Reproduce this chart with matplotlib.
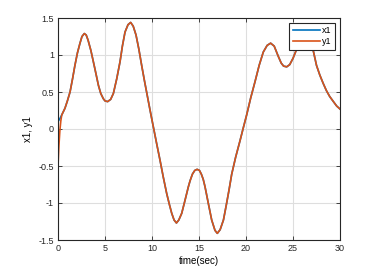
import matplotlib
matplotlib.use("Agg")
import matplotlib.pyplot as plt

# values
t_start = [0.0, 0.1, 0.2, 0.3]
x1_start = [0.10, 0.12, 0.14, 0.165]
y1_start = [-0.50, -0.22, -0.02, 0.11]

t_common = [0.4, 0.74, 1.0, 1.28, 1.55, 1.8, 2.07, 2.34, 2.55, 2.8, 3.0, 3.2,
            3.5, 3.76, 4.05, 4.3, 4.55, 4.82, 5.0, 5.28, 5.6, 5.89, 6.25, 6.6,
            6.85, 7.13, 7.45, 7.73, 8.0, 8.3, 8.6, 8.9, 9.2, 9.5, 9.8, 10.14,
            10.5, 10.85, 11.2, 11.56, 11.85, 12.1, 12.35, 12.6, 12.85, 13.16,
            13.5, 13.87, 14.05, 14.3, 14.55, 14.8, 15.05, 15.25, 15.45, 15.64,
            16.0, 16.35, 16.7, 16.95, 17.25, 17.6, 17.9, 18.2, 18.48, 18.9,
            19.36, 19.7, 20.07, 20.5, 20.96, 21.4, 21.84, 22.25, 22.62, 23.0,
            23.44, 23.75, 24.0, 24.33, 24.65, 25.0, 25.3, 25.6, 26.0, 26.3,
            26.7, 27.1, 27.5, 27.85, 28.2, 28.55, 28.9, 29.3, 29.65, 30.0]
v_common = [0.19, 0.28, 0.38, 0.50, 0.68, 0.86, 1.03, 1.16, 1.25, 1.29, 1.27, 1.20,
            1.06, 0.91, 0.74, 0.59, 0.48, 0.41, 0.38, 0.37, 0.40, 0.48, 0.68, 0.91,
            1.12, 1.31, 1.41, 1.44, 1.39, 1.27, 1.08, 0.86, 0.65, 0.45, 0.25, 0.03,
            -0.20, -0.42, -0.65, -0.87, -1.02, -1.14, -1.23, -1.27, -1.23, -1.14,
            -0.97, -0.78, -0.70, -0.61, -0.56, -0.545, -0.56, -0.61, -0.68, -0.78,
            -1.01, -1.23, -1.37, -1.41, -1.36, -1.23, -1.03, -0.82, -0.61, -0.38,
            -0.16, 0.01, 0.19, 0.42, 0.64, 0.86, 1.04, 1.13, 1.16, 1.12,
            0.98, 0.89, 0.85, 0.84, 0.87, 0.955, 1.05, 1.15, 1.23, 1.25,
            1.20, 1.09, 0.86, 0.73, 0.62, 0.52, 0.44, 0.37, 0.31, 0.27]

t = t_start + t_common
x1 = x1_start + v_common
y1 = y1_start + v_common

x_ticks = [0, 5, 10, 15, 20, 25, 30]
y_ticks = [-1.5, -1, -0.5, 0, 0.5, 1, 1.5]
y_labels = ["-1.5", "-1", "-0.5", "0", "0.5", "1", "1.5"]

plt.rcParams['font.family'] = ['Liberation Sans', 'DejaVu Sans']
plt.rcParams['axes.unicode_minus'] = False

fig = plt.figure(figsize=(3.81, 2.74), dpi=100)
ax = fig.add_axes([58 / 381, 1 - 240 / 274, 282 / 381, 222 / 274])

ax.plot(t, x1, color=(0, 0.447, 0.741), lw=1.2, label='x1')
ax.plot(t, y1, color=(0.85, 0.325, 0.098), lw=1.2, label='y1')

ax.set_xlim(0, 30)
ax.set_ylim(-1.5, 1.5)
ax.set_xticks(x_ticks)
ax.set_yticks(y_ticks)
ax.set_yticklabels(y_labels)
ax.grid(True, color='#dedede', lw=0.8)
ax.set_axisbelow(True)
ax.tick_params(direction='in', top=True, right=True, labelsize=6.5,
               length=3, width=0.6, colors='#262626', pad=3)
for s in ax.spines.values():
    s.set_color('#262626')
    s.set_linewidth(0.8)

ax.set_xlabel("time(sec)", fontsize=7, labelpad=2)
ax.set_ylabel("x1, y1", fontsize=7, labelpad=4)

leg = ax.legend(loc='upper right', fontsize=6.5, fancybox=False, framealpha=1,
                edgecolor='#262626', handlelength=3.0, handletextpad=0.3,
                borderpad=0.35, labelspacing=0.25, borderaxespad=0.55)
leg.get_frame().set_linewidth(0.8)

fig.savefig("out.png", dpi=100)
